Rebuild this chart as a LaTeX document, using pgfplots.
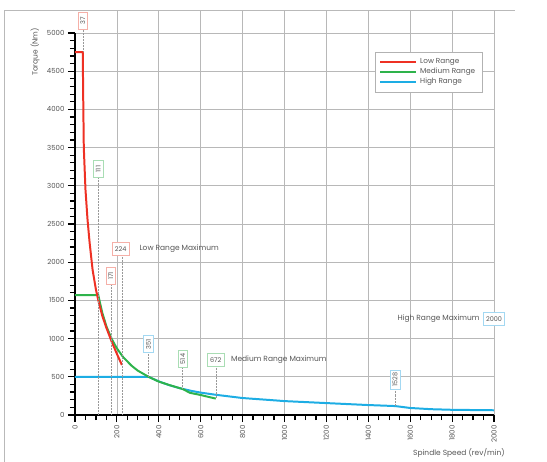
\documentclass[border=0pt]{standalone}
\usepackage{fontspec}
\setmainfont{Poppins}
\usepackage{pgfplots}
\pgfplotsset{compat=1.18}
\definecolor{lowc}{HTML}{EE3124}
\definecolor{medc}{HTML}{2EB34B}
\definecolor{highc}{HTML}{1DADE4}
\definecolor{lowl}{HTML}{F5B0A8}
\definecolor{medl}{HTML}{A9DDB4}
\definecolor{highl}{HTML}{A3D8F2}
\definecolor{gridc}{HTML}{B8B8B8}
\definecolor{txt}{HTML}{555555}
\tikzset{
  lbl/.style={draw=#1, fill=white, line width=0.6pt, inner sep=2.5pt, font=\fontsize{6.5}{7}\selectfont, text=txt},
  rlbl/.style={lbl=#1, rotate=90, minimum width=17bp},
  hlbl/.style={lbl=#1, minimum height=13bp},
  lead/.style={gray!80, densely dotted, line width=0.5pt},
  ann/.style={font=\fontsize{7.5}{9}\selectfont, text=txt, inner sep=0pt}
}
\begin{document}
\begin{tikzpicture}
\path[use as bounding box] (-75bp,-47bp) rectangle (472bp,415bp);
\draw[gray!55, line width=0.7pt] (-71bp,-60bp) -- (-71bp,405bp) -- (440bp,405bp);
\begin{axis}[
  at={(0,0)}, anchor=south west,
  scale only axis, width=419bp, height=382bp,
  xmin=0, xmax=2000, ymin=0, ymax=5000,
  clip=false,
  axis x line*=bottom, axis y line*=left,
  axis line style={black, line width=1.4pt},
  xtick={0,200,...,2000}, ytick={0,500,...,5000},
  minor x tick num=3, minor y tick num=4,
  tick align=outside, major tick length=7bp, minor tick length=5bp,
  tick style={black, line width=1.2pt},
  grid=major, major grid style={gridc, line width=0.7pt},
  /pgf/number format/assume math mode=true,
  /pgf/number format/1000 sep={},
  xticklabel style={rotate=90, anchor=east, font=\fontsize{7}{8}\selectfont, text=txt},
  yticklabel style={font=\fontsize{7}{8}\selectfont, text=txt},
  legend style={at={(axis description cs:0.716,0.950)}, anchor=north west,
    draw=gray!60, line width=0.5pt, font=\fontsize{7.3}{8}\selectfont, text=txt,
    inner xsep=4pt, inner ysep=5pt, row sep=0pt,
    nodes={inner ysep=1.5pt, inner xsep=3pt}},
  legend cell align=left,
  reverse legend,
  legend image code/.code={\draw[#1, line width=2pt] (0bp,0bp) -- (36bp,0bp);},
]
\pgfplotsinvokeforeach{200,400,600,800,1000,1200,1400,1600,1800,2000}{
  \draw[gridc, line width=0.7pt] (axis cs:#1,5000) -- (axis cs:#1,5300);
}
% High range
\addplot[highc, line width=2pt] coordinates {
 (0,500) (351,500) (400,440) (450,390) (500,351) (557,315) (600,293) (668,266)
 (800,222) (932,196) (1000,182) (1200,156) (1394,131) (1528,117) (1600,92)
 (1700,76) (1800,68) (2000,62)
};
\addlegendentry{High Range}
% Medium range
\addplot[medc, line width=2pt] coordinates {
 (0,1570) (111,1570) (130,1340) (150,1160) (175,996) (199,876) (230,757)
 (270,645) (300,580) (351,500) (400,437) (453,390) (514,340) (549,290)
 (600,262) (640,235) (672,215)
};
\addlegendentry{Medium Range}
% Low range
\addplot[lowc, line width=2pt] coordinates {
 (0,4750) (37,4750) (39,4200) (42,3500) (50,2950) (60,2550) (70,2250) (84,1900)
 (100,1640) (111,1505) (130,1300) (150,1140) (175,960) (200,800) (224,654)
};
\addlegendentry{Low Range}
% leader lines
\draw[lead] (axis cs:37,5040) -- (axis cs:37,4750);
\draw[lead] (axis cs:111,3100) -- (axis cs:111,0);
\draw[lead] (axis cs:171,1700) -- (axis cs:171,0);
\draw[lead] (axis cs:224,2090) -- (axis cs:224,0);
\draw[lead] (axis cs:351,800) -- (axis cs:351,500);
\draw[lead] (axis cs:514,610) -- (axis cs:514,340);
\draw[lead] (axis cs:672,640) -- (axis cs:672,215);
\draw[lead] (axis cs:1528,340) -- (axis cs:1528,117);
% label boxes
\node[rlbl=lowl] at (axis cs:37,5157) {37};
\node[rlbl=medl] at (axis cs:111,3220) {111};
\node[rlbl=lowl] at (axis cs:171,1820) {171};
\node[hlbl=lowl] at (axis cs:218,2173) {224};
\node[ann, anchor=west] at (axis cs:307,2173) {Low Range Maximum};
\node[rlbl=highl] at (axis cs:351,929) {351};
\node[rlbl=medl] at (axis cs:514,733) {514};
\node[hlbl=medl] at (axis cs:672,720) {672};
\node[ann, anchor=west] at (axis cs:744,720) {Medium Range Maximum};
\node[rlbl=highl] at (axis cs:1528,465) {1528};
\node[ann, anchor=east] at (axis cs:1932,1257) {High Range Maximum};
\node[hlbl=highl] at (axis cs:2000,1257) {2000};
\end{axis}
\node[ann, rotate=90] at (-40bp,363bp) {Torque (Nm)};
\node[ann, anchor=east] at (430bp,-38bp) {Spindle Speed (rev/min)};
\end{tikzpicture}
\end{document}
